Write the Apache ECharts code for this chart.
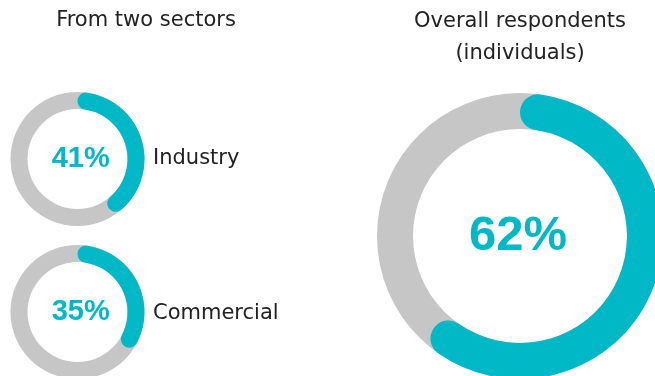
<!DOCTYPE html>
<html>
<head>
<meta charset="utf-8">
<script src="https://cdn.jsdelivr.net/npm/echarts@6/dist/echarts.min.js"></script>
<style>
  html, body { margin: 0; padding: 0; background: #ffffff; }
  #chart { width: 655px; height: 376px; }
</style>
</head>
<body>
<div id="chart"></div>
<script>
// Share of respondents, by sector and overall
const sectorNames = ['Industry', 'Commercial'];
const sectorShares = [41, 35];
const overallShare = 62;
const headings = ['From two sectors', 'Overall respondents\n(individuals)'];

const TEAL = '#00B8C6';
const GREY = '#C6C6C6';
const FONT = '"DejaVu Sans", Verdana, sans-serif';
const NUM_FONT = '"Liberation Sans", Arial, Helvetica, sans-serif';

// One donut: a full grey track with the teal share drawn on top of it
function donut(center, inner, outer, share, fontSize, shiftX) {
  const half = (outer - inner) / 2;
  const pad = shiftX >= 0 ? [0, 0, 0, shiftX * 2] : [0, -shiftX * 2, 0, 0];
  return [
    {
      type: 'pie', center, radius: [inner, outer], silent: true,
      label: { show: false }, labelLine: { show: false },
      itemStyle: { color: GREY },
      data: [{ value: 100 }]
    },
    {
      type: 'pie', center, radius: [inner, outer], silent: true,
      startAngle: 90, clockwise: true,
      labelLine: { show: false },
      data: [
        {
          value: share,
          itemStyle: { color: TEAL, borderRadius: half },
          label: {
            show: true, position: 'center', formatter: '{c}%',
            color: TEAL, fontFamily: NUM_FONT, fontWeight: 'bold', fontSize,
            padding: pad
          }
        },
        {
          value: 100 - share,
          itemStyle: { color: 'rgba(0,0,0,0)' },
          label: { show: false }
        }
      ]
    }
  ];
}

const chart = echarts.init(document.getElementById('chart'), null, { renderer: 'canvas' });

const smallCenters = [[77.5, 159], [77.5, 312]];
let series = [];
sectorShares.forEach((v, i) => {
  series = series.concat(donut(smallCenters[i], 50, 67, v, 29, 3.2));
});
series = series.concat(donut([520, 236], 107, 143, overallShare, 49, -2));

const textStyle = { fontFamily: FONT, fontSize: 21, fill: '#222222' };

chart.setOption({
  animation: false,
  backgroundColor: '#ffffff',
  series,
  graphic: [
    { type: 'text', style: Object.assign({ text: headings[0], x: 146, y: 20.5, align: 'center', verticalAlign: 'middle' }, textStyle) },
    { type: 'text', style: Object.assign({ text: headings[1], x: 520, y: 38, align: 'center', verticalAlign: 'middle', lineHeight: 32 }, textStyle) },
    { type: 'text', style: Object.assign({ text: sectorNames[0], x: 153, y: 159, align: 'left', verticalAlign: 'middle' }, textStyle) },
    { type: 'text', style: Object.assign({ text: sectorNames[1], x: 153, y: 313.5, align: 'left', verticalAlign: 'middle' }, textStyle) }
  ]
});
</script>
</body>
</html>
